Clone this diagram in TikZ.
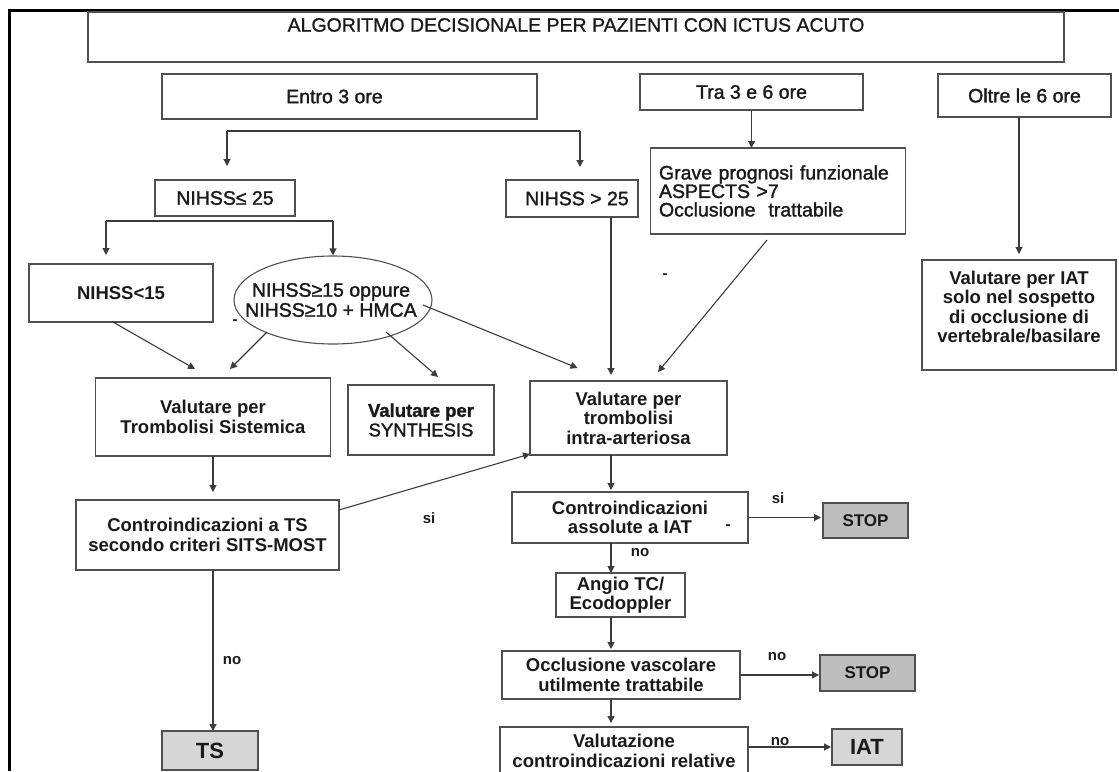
\documentclass[tikz,border=0pt]{standalone}
\usepackage{fontspec}
\setmainfont{Liberation Sans}
\newfontfamily\medfont[FakeBold=1.5]{Liberation Sans}
\newfontfamily\titfont[FakeBold=0.8]{Liberation Sans}
\usetikzlibrary{arrows.meta,shapes.geometric}
\definecolor{lnc}{HTML}{3C3C3C}
\definecolor{bdc}{HTML}{505050}
\definecolor{txc}{HTML}{1A1A1A}
\definecolor{lightg}{HTML}{D6D6D6}
\definecolor{darkg}{HTML}{BEBEBE}
\begin{document}
\begin{tikzpicture}[x=1pt,y=-1pt,
  box/.style={draw=bdc, line width=1.1pt, rectangle, inner sep=2pt, outer sep=0pt, align=center, text=txc, font=\fontsize{19.5}{20}\medfont},
  boxb/.style={box, font=\fontsize{18.5}{19.5}\selectfont\bfseries},
  txt/.style={text=txc, inner sep=0pt, align=center, font=\fontsize{18.5}{19.5}\selectfont},
  txtb/.style={txt, font=\fontsize{18.5}{19.5}\selectfont\bfseries},
  arr/.style={draw=lnc, line width=1.1pt, -{Triangle[length=7pt,width=7pt]}},
  plain/.style={draw=lnc, line width=1.1pt},
  lbl/.style={text=txc, inner sep=0pt, font=\fontsize{15}{16}\selectfont\bfseries},
]
\useasboundingbox (0,0) rectangle (1119,771);
% outer frame
\draw[line width=3pt, black] (9,771) -- (9,10) -- (1119,10);

% title
\node[box, minimum width=976pt, minimum height=50pt] (title) at (576,37) {};
\node[txt, font=\fontsize{19.5}{20}\titfont] (titletext) at (576,25) {ALGORITMO DECISIONALE PER PAZIENTI CON ICTUS ACUTO};

% time windows
\node[box, minimum width=375pt, minimum height=45pt] (entro) at (349.5,96.5) {Entro 3 ore\hspace*{30pt}};
\node[box, minimum width=223pt, minimum height=36pt] (tra) at (751.5,92) {Tra 3 e 6 ore};
\node[box, minimum width=173pt, minimum height=43pt] (oltre) at (1024.5,95.5) {Oltre le 6 ore};

% NIHSS level
\node[box, minimum width=140pt, minimum height=36pt] (nle25) at (225,198) {NIHSS≤ 25};
\node[box, minimum width=132pt, minimum height=37pt] (ngt25) at (572,198.5) {\hspace*{10pt}NIHSS > 25};
\node[box, minimum width=255pt, minimum height=86pt, text width=238pt, align=left, font=\fontsize{19.5}{18.5}\medfont] (grave) at (778,191)
  {Grave prognosi funzionale\\ASPECTS >7\\Occlusione~ trattabile};

\node[boxb, minimum width=184pt, minimum height=58pt] (nlt15) at (121,293) {NIHSS<15};
\node[draw=bdc, line width=1.1pt, ellipse, minimum width=198pt, minimum height=88pt, inner sep=0pt] (ell) at (333,300) {};
\node[txt, font=\fontsize{19.5}{20}\medfont] (elltext) at (331,300) {NIHSS≥15 oppure\\NIHSS≥10 + HMCA};

\node[box, minimum width=194pt, minimum height=110pt] (iatq) at (1019,315) {};
\node[txtb] (iatqtext) at (1019,307) {Valutare per IAT\\solo nel sospetto\\di occlusione di\\vertebrale/basilare};

% evaluation row
\node[boxb, minimum width=235pt, minimum height=78pt] (tromb) at (213,417) {Valutare per\\Trombolisi Sistemica};
\node[box, minimum width=146pt, minimum height=70pt, font=\fontsize{18.5}{19.5}\medfont] (synth) at (421,420) {\bfseries Valutare per\\SYNTHESIS};
\node[boxb, minimum width=197pt, minimum height=74pt] (intra) at (628.5,418) {Valutare per\\trombolisi\\intra-arteriosa};

% lower part
\node[boxb, minimum width=263pt, minimum height=70pt] (cts) at (207.5,535) {Controindicazioni a TS\\secondo criteri SITS-MOST};
\node[boxb, minimum width=96pt, minimum height=39pt, fill=lightg, font=\fontsize{22}{24}\selectfont\bfseries] (ts) at (210,750.5) {TS};

\node[boxb, minimum width=236pt, minimum height=51pt] (ciat) at (630,517.5) {Controindicazioni\\assolute a IAT};
\node[boxb, minimum width=85pt, minimum height=35pt, fill=darkg, font=\fontsize{17}{18}\selectfont\bfseries] (stop1) at (865.5,520.5) {STOP};
\node[boxb, minimum width=129pt, minimum height=44pt] (angio) at (620.5,595) {Angio TC/\\Ecodoppler};
\node[boxb, minimum width=238pt, minimum height=48pt] (occl) at (621,675) {Occlusione vascolare\\utilmente trattabile};
\node[boxb, minimum width=95pt, minimum height=36pt, fill=darkg, font=\fontsize{17}{18}\selectfont\bfseries] (stop2) at (867.5,673) {STOP};
\node[boxb, minimum width=248pt, minimum height=48pt] (valut) at (624,751) {Valutazione\\controindicazioni relative};
\node[boxb, minimum width=70pt, minimum height=36pt, fill=lightg, font=\fontsize{22}{24}\selectfont\bfseries] (iat) at (867,747) {IAT};

% labels
\node[lbl] (dash1) at (235,322) {-};
\node[lbl] (dash2) at (665,276) {-};
\node[lbl] (dash3) at (728,527) {-};
\node[lbl] (si1) at (429,518) {si};
\node[lbl] (no1) at (232,661) {no};
\node[lbl] (si2) at (778,498) {si};
\node[lbl] (no2) at (640,553) {no};
\node[lbl] (no3) at (777,657) {no};
\node[lbl] (no4) at (780,742) {no};

% bracket from Entro 3 ore
\coordinate (e1) at (227,131);
\coordinate (e2) at (580,131);
\draw[plain] (e1) -- (e2);
\draw[arr, shorten >=14pt] (e1) -- (e1 |- nle25.north);
\draw[arr, shorten >=13pt] (e2) -- (e2 |- ngt25.north);

% bracket from NIHSS<=25
\coordinate (f1) at (106,221);
\coordinate (f2) at (333,221);
\draw[plain] (f1) -- (f2);
\draw[arr, shorten >=9pt] (f1) -- (f1 |- nlt15.north);
\draw[arr] (f2) -- (ell.north);

% time windows down
\draw[arr] (tra.south) -- (tra.south |- grave.north);
\draw[arr, shorten >=6pt] (oltre.south -| iatq.north) -- (iatq.north);

% into evaluation row
\draw[arr] ([shift={(-8,0)}]nlt15.south) -- ([shift={(-18,-9)}]tromb.north);
\draw[arr] ([shift={(-66,32)}]ell.center) -- ([shift={(17,-9)}]tromb.north);
\draw[arr] ([shift={(53,32)}]ell.center) -- ([shift={(17,-8)}]synth.north);
\draw[arr] ([shift={(90,5)}]ell.center) -- ([shift={(-51,-13)}]intra.north);
\coordinate (col) at (611,0);
\draw[arr, shorten >=6pt] (ngt25.south -| col) -- (intra.north -| col);
\draw[arr] ([shift={(-11,6)}]grave.south) -- ([shift={(29.5,-9)}]intra.north);

% left column
\draw[arr, shorten >=8pt] (tromb.south) -- (tromb.south |- cts.north);
\draw[arr] (tromb.south |- cts.south) -- (tromb.south |- ts.north);
\draw[arr] ([shift={(0,10)}]cts.north east) -- ([shift={(0,-1)}]intra.south west);

% middle column
\draw[arr, shorten >=2pt] (intra.south -| col) -- (ciat.north -| col);
\draw[arr] (ciat.south -| col) -- (angio.north -| col);
\draw[arr, shorten >=2pt] (angio.south -| col) -- (occl.north -| col);
\draw[arr, shorten >=4pt] (occl.south -| col) -- (valut.north -| col);
\draw[arr, shorten >=2pt] (ciat.east) -- (ciat.east -| stop1.west);
\draw[arr, shorten >=1pt] (occl.east) -- (occl.east -| stop2.west);
\draw[arr, shorten >=1pt] (valut.east |- iat.west) -- (iat.west);
\end{tikzpicture}
\end{document}
